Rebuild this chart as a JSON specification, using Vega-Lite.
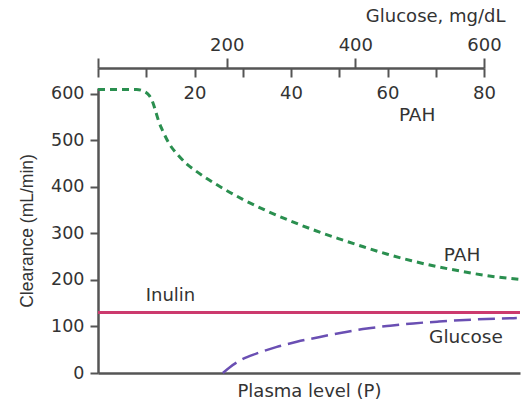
{
  "$schema": "https://vega.github.io/schema/vega-lite/v6.json",
  "width": 422,
  "height": 285,
  "autosize": "none",
  "padding": {"left": 98, "top": 88, "right": 8, "bottom": 31},
  "background": "white",
  "config": {
    "view": {"stroke": null},
    "font": "DejaVu Sans",
    "axis": {
      "domainColor": "#555555",
      "tickColor": "#555555",
      "domainWidth": 2.5,
      "tickWidth": 2,
      "labelColor": "#333333",
      "titleColor": "#333333",
      "labelFont": "DejaVu Sans",
      "titleFont": "DejaVu Sans",
      "labelFontSize": 18,
      "titleFontSize": 18,
      "titleFontWeight": "normal",
      "grid": false
    }
  },
  "datasets": {
    "inulin": [
      {"plasma": 0, "clearance": 130},
      {"plasma": 87.4, "clearance": 130}
    ],
    "pah": [
      {"plasma": 0, "clearance": 609},
      {"plasma": 8.0, "clearance": 609},
      {"plasma": 9.5, "clearance": 605},
      {"plasma": 10.6, "clearance": 596},
      {"plasma": 11.4, "clearance": 580},
      {"plasma": 12.0, "clearance": 560},
      {"plasma": 12.6, "clearance": 540},
      {"plasma": 13.5, "clearance": 518},
      {"plasma": 14.9, "clearance": 490},
      {"plasma": 16.6, "clearance": 468},
      {"plasma": 18.6, "clearance": 447},
      {"plasma": 20, "clearance": 436},
      {"plasma": 25, "clearance": 402},
      {"plasma": 30, "clearance": 373},
      {"plasma": 35, "clearance": 348},
      {"plasma": 40, "clearance": 326},
      {"plasma": 45, "clearance": 306},
      {"plasma": 50, "clearance": 288},
      {"plasma": 55, "clearance": 271},
      {"plasma": 60, "clearance": 255},
      {"plasma": 65, "clearance": 241},
      {"plasma": 70, "clearance": 229},
      {"plasma": 75, "clearance": 219},
      {"plasma": 80, "clearance": 210},
      {"plasma": 87.4, "clearance": 201}
    ],
    "glucose": [
      {"glucose": 194, "clearance": 0},
      {"glucose": 205.5, "clearance": 13},
      {"glucose": 221, "clearance": 27},
      {"glucose": 247, "clearance": 42},
      {"glucose": 278, "clearance": 56},
      {"glucose": 309, "clearance": 67},
      {"glucose": 345, "clearance": 77.5},
      {"glucose": 381, "clearance": 87},
      {"glucose": 418, "clearance": 95.6},
      {"glucose": 454, "clearance": 101.5},
      {"glucose": 490, "clearance": 106.5},
      {"glucose": 530, "clearance": 110.5},
      {"glucose": 580, "clearance": 114.5},
      {"glucose": 651, "clearance": 118}
    ]
  },
  "layer": [
    {
      "layer": [
        {
          "data": {"name": "inulin"},
          "mark": {"type": "line", "color": "#cc3a6e", "strokeWidth": 3},
          "encoding": {
            "x": {
              "field": "plasma", "type": "quantitative",
              "scale": {"domain": [0, 87.4], "nice": false, "zero": false},
              "axis": {"orient": "bottom", "ticks": false, "labels": false, "domain": true,
                       "title": "Plasma level (P)", "titlePadding": 23, "titleBaseline": "alphabetic"}
            },
            "y": {
              "field": "clearance", "type": "quantitative",
              "scale": {"domain": [0, 612], "nice": false, "zero": true},
              "axis": {"orient": "left", "values": [0, 100, 200, 300, 400, 500, 600],
                       "tickSize": 8, "labelPadding": 6, "labelFontSize": 17.5,
                       "title": "Clearance (mL/min)", "titleFont": "Liberation Sans",
                       "titleFontSize": 17.5, "titlePadding": 14}
            }
          }
        },
        {
          "data": {"values": [{}]},
          "mark": {"type": "text", "font": "DejaVu Sans", "fontSize": 18.5, "color": "#333333", "align": "center", "baseline": "middle"},
          "encoding": {
            "x": {"datum": 66.1, "type": "quantitative"},
            "y": {"datum": 555, "type": "quantitative"},
            "text": {"value": "PAH"}
          }
        },
        {
          "data": {"values": [{}]},
          "mark": {"type": "text", "font": "DejaVu Sans", "fontSize": 18.5, "color": "#333333", "align": "center", "baseline": "middle"},
          "encoding": {
            "x": {"datum": 75.4, "type": "quantitative"},
            "y": {"datum": 253, "type": "quantitative"},
            "text": {"value": "PAH"}
          }
        },
        {
          "data": {"values": [{}]},
          "mark": {"type": "text", "font": "DejaVu Sans", "fontSize": 18.5, "color": "#333333", "align": "center", "baseline": "middle"},
          "encoding": {
            "x": {"datum": 76.2, "type": "quantitative"},
            "y": {"datum": 77, "type": "quantitative"},
            "text": {"value": "Glucose"}
          }
        },
        {
          "data": {"values": [{}]},
          "mark": {"type": "text", "font": "DejaVu Sans", "fontSize": 18, "color": "#333333", "align": "center", "baseline": "middle"},
          "encoding": {
            "x": {"datum": 15.0, "type": "quantitative"},
            "y": {"datum": 165, "type": "quantitative"},
            "text": {"value": "Inulin"}
          }
        }
      ]
    },
    {
      "data": {"name": "pah"},
      "mark": {"type": "line", "color": "#2a8f4f", "strokeWidth": 3, "strokeDash": [7, 5], "interpolate": "monotone"},
      "encoding": {
        "x": {
          "field": "plasma", "type": "quantitative",
          "scale": {"domain": [0, 80], "range": [0, 386], "nice": false, "zero": false},
          "axis": {"orient": "top", "offset": 20, "values": [0, 10, 20, 30, 40, 50, 60, 70, 80],
                   "tickSize": -9, "labelPadding": -21, "labelBaseline": "alphabetic",
                   "labelExpr": "datum.value > 0 && datum.value % 20 == 0 ? datum.label : ''",
                   "labelFlush": false, "labelOverlap": false, "title": null}
        },
        "y": {
          "field": "clearance", "type": "quantitative",
          "scale": {"domain": [0, 612], "nice": false, "zero": true},
          "title": "Clearance (mL/min)"
        }
      }
    },
    {
      "data": {"name": "glucose"},
      "mark": {"type": "line", "color": "#6a4fb3", "strokeWidth": 2.5, "strokeDash": [17, 7], "interpolate": "monotone"},
      "encoding": {
        "x": {
          "field": "glucose", "type": "quantitative",
          "scale": {"domain": [0, 600], "range": [0, 386], "nice": false, "zero": false},
          "axis": {"orient": "top", "offset": 20, "values": [0, 200, 400, 600],
                   "tickSize": 10, "labelPadding": 8, "labelBaseline": "alphabetic",
                   "labelExpr": "datum.value > 0 ? datum.label : ''",
                   "labelFlush": false, "labelOverlap": false, "domain": false,
                   "title": "Glucose, mg/dL", "titleX": 407, "titleY": -47,
                   "titleAlign": "right", "titleBaseline": "alphabetic", "titleAngle": 0}
        },
        "y": {
          "field": "clearance", "type": "quantitative",
          "scale": {"domain": [0, 612], "nice": false, "zero": true},
          "title": "Clearance (mL/min)"
        }
      }
    }
  ],
  "resolve": {"scale": {"x": "independent"}, "axis": {"x": "independent"}}
}
